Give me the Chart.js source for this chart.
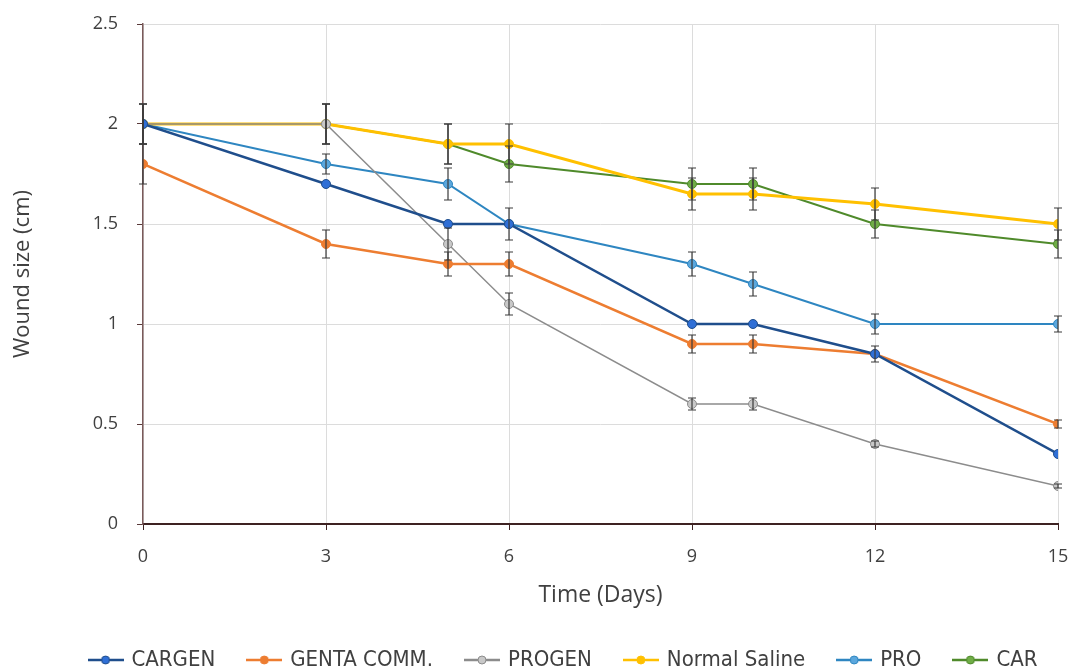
<!DOCTYPE html>
<html>
<head>
<meta charset="utf-8">
<script src="https://cdn.jsdelivr.net/npm/chart.js@4.4.1/dist/chart.umd.min.js"></script>
<style>
  html, body { margin: 0; padding: 0; background: #fff; }
  #wrap { width: 1077px; height: 671px; }
</style>
</head>
<body>
<div id="wrap"><canvas id="chart" width="1077" height="671"></canvas></div>
<script>
const days = [0, 3, 5, 6, 9, 10, 12, 15];
const xTicks = [0, 3, 6, 9, 12, 15];

const seriesNames = ["CARGEN", "GENTA COMM.", "PROGEN", "Normal Saline", "PRO", "CAR"];
const cargen = [2.0, 1.7, 1.5, 1.5, 1.0, 1.0, 0.85, 0.35];
const genta = [1.8, 1.4, 1.3, 1.3, 0.9, 0.9, 0.85, 0.5];
const progen = [2.0, 2.0, 1.4, 1.1, 0.6, 0.6, 0.4, 0.19];
const saline = [2.0, 2.0, 1.9, 1.9, 1.65, 1.65, 1.6, 1.5];
const pro = [2.0, 1.8, 1.7, 1.5, 1.3, 1.2, 1.0, 1.0];
const car = [2.0, 2.0, 1.9, 1.8, 1.7, 1.7, 1.5, 1.4];

// error bar half-heights (cm)
const cargenErr = [0, 0, 0, 0, 0, 0, 0, 0];
const gentaErr = [0.1, 0.07, 0.06, 0.06, 0.045, 0.045, 0.04, 0.02];
const progenErr = [0, 0.1, 0.08, 0.055, 0.03, 0.03, 0.015, 0.01];
const salineErr = [0.1, 0.1, 0.1, 0.1, 0.08, 0.08, 0.08, 0.08];
const proErr = [0.1, 0.05, 0.08, 0.08, 0.06, 0.06, 0.05, 0.04];
const carErr = [0.1, 0.1, 0.1, 0.09, 0.08, 0.08, 0.07, 0.07];

const lineColors = ["#1f4e8c", "#ed7d31", "#8c8c8c", "#ffc000", "#2e86c1", "#4f8a2b"];
const pointColors = ["#2f6fd6", "#ed7d31", "#c8c8c8", "#ffc000", "#5ba7dd", "#70ad47"];
const lineWidths = [2.5, 2.5, 1.5, 3, 2, 2];

function legendIcon(line, dot) {
  const c = document.createElement("canvas");
  c.width = 36; c.height = 12;
  const g = c.getContext("2d");
  g.strokeStyle = line; g.lineWidth = 2.5;
  g.beginPath(); g.moveTo(0, 6); g.lineTo(36, 6); g.stroke();
  g.fillStyle = dot; g.strokeStyle = line; g.lineWidth = 1;
  g.beginPath(); g.arc(18, 6, 4, 0, Math.PI * 2); g.fill(); g.stroke();
  return c;
}

function makeSet(i, values, errs) {
  return {
    label: seriesNames[i],
    data: days.map((d, k) => ({ x: d, y: values[k] })),
    errors: errs,
    legendIcon: legendIcon(lineColors[i], pointColors[i]),
    borderColor: lineColors[i],
    backgroundColor: pointColors[i],
    pointBackgroundColor: pointColors[i],
    pointBorderColor: lineColors[i],
    pointBorderWidth: 1,
    pointRadius: 4.5,
    borderWidth: lineWidths[i],
    tension: 0,
  };
}

const datasets = [
  makeSet(0, cargen, cargenErr),
  makeSet(1, genta, gentaErr),
  makeSet(2, progen, progenErr),
  makeSet(3, saline, salineErr),
  makeSet(4, pro, proErr),
  makeSet(5, car, carErr),
];

// Error bars drawn through the scales
const errorBars = {
  id: "errorBars",
  afterDatasetsDraw(chart) {
    const ctx = chart.ctx;
    const xs = chart.scales.x, ys = chart.scales.y;
    ctx.save();
    ctx.strokeStyle = "#3a3a3a";
    ctx.lineWidth = 1.2;
    chart.data.datasets.forEach((ds) => {
      ds.data.forEach((p, k) => {
        const e = ds.errors[k];
        if (!e) return;
        const px = xs.getPixelForValue(p.x);
        const top = ys.getPixelForValue(p.y + e);
        const bot = ys.getPixelForValue(p.y - e);
        ctx.beginPath();
        ctx.moveTo(px, top); ctx.lineTo(px, bot);
        ctx.moveTo(px - 4, top); ctx.lineTo(px + 4, top);
        ctx.moveTo(px - 4, bot); ctx.lineTo(px + 4, bot);
        ctx.stroke();
      });
    });
    ctx.restore();
  },
};

// legend sits lower and a bit to the right, like the original
const legendShift = {
  id: "legendShift",
  afterLayout(chart) {
    const lg = chart.legend;
    lg.left += 32; lg.right += 32;
  },
};

const tickFont = { family: "'Open Sans', 'Noto Sans', sans-serif", size: 18 };

const chart = new Chart(document.getElementById("chart"), {
  type: "line",
  data: { datasets },
  options: {
    responsive: false,
    animation: false,
    layout: { padding: { left: 6, right: 19, top: 24, bottom: 0 } },
    plugins: {
      tooltip: { enabled: false },
      legend: {
        position: "bottom",
        labels: {
          usePointStyle: true,
          pointStyleWidth: 30,
          color: "#404040",
          font: { family: "'Liberation Sans Narrow', 'DejaVu Sans Condensed', sans-serif", size: 22 },
          padding: 34,
          generateLabels(chart) {
            return chart.data.datasets.map((ds, i) => ({
              text: ds.label,
              fillStyle: ds.backgroundColor,
              strokeStyle: ds.borderColor,
              pointStyle: ds.legendIcon,
              lineWidth: 0,
              datasetIndex: i,
              fontColor: "#404040",
            }));
          },
        },
      },
    },
    scales: {
      x: {
        type: "linear",
        min: 0,
        max: 15,
        afterBuildTicks(scale) { scale.ticks = xTicks.map((v) => ({ value: v })); },
        afterFit(scale) {
          scale.height = 91;
          scale.paddingLeft = 0;
          scale.paddingRight = 0;
        },
        ticks: { color: "#404040", font: tickFont, padding: 16 },
        grid: { color: "#dcdcdc", tickColor: "#3d2222", tickLength: 6, lineWidth: 1 },
        border: { color: "#3d2222", width: 2 },
        title: {
          display: true,
          text: "Time (Days)",
          color: "#404040",
          font: { family: "'Open Sans', 'Noto Sans', sans-serif", size: 23 },
          padding: { top: 0, bottom: 6 },
        },
      },
      y: {
        min: 0,
        max: 2.5,
        afterFit(scale) {
          scale.width = 137;
          scale.paddingTop = 0;
          scale.paddingBottom = 0;
        },
        ticks: {
          stepSize: 0.5,
          color: "#404040",
          font: tickFont,
          padding: 19,
          callback: (v) => String(v),
        },
        grid: { color: "#dcdcdc", tickColor: "#5a3a3a", tickLength: 6, lineWidth: 1 },
        border: { color: "#7a5a5a", width: 1.5 },
        title: {
          display: true,
          text: "Wound size (cm)",
          color: "#404040",
          font: { family: "'Open Sans', 'Noto Sans', sans-serif", size: 22 },
          padding: { bottom: 4 },
        },
      },
    },
  },
  plugins: [errorBars, legendShift],
});

// keep the legend box short so the plot keeps its height
const legendFit = chart.legend.fit;
chart.legend.fit = function () {
  legendFit.call(this);
  this.height = 56;
};
chart.update();
</script>
</body>
</html>
